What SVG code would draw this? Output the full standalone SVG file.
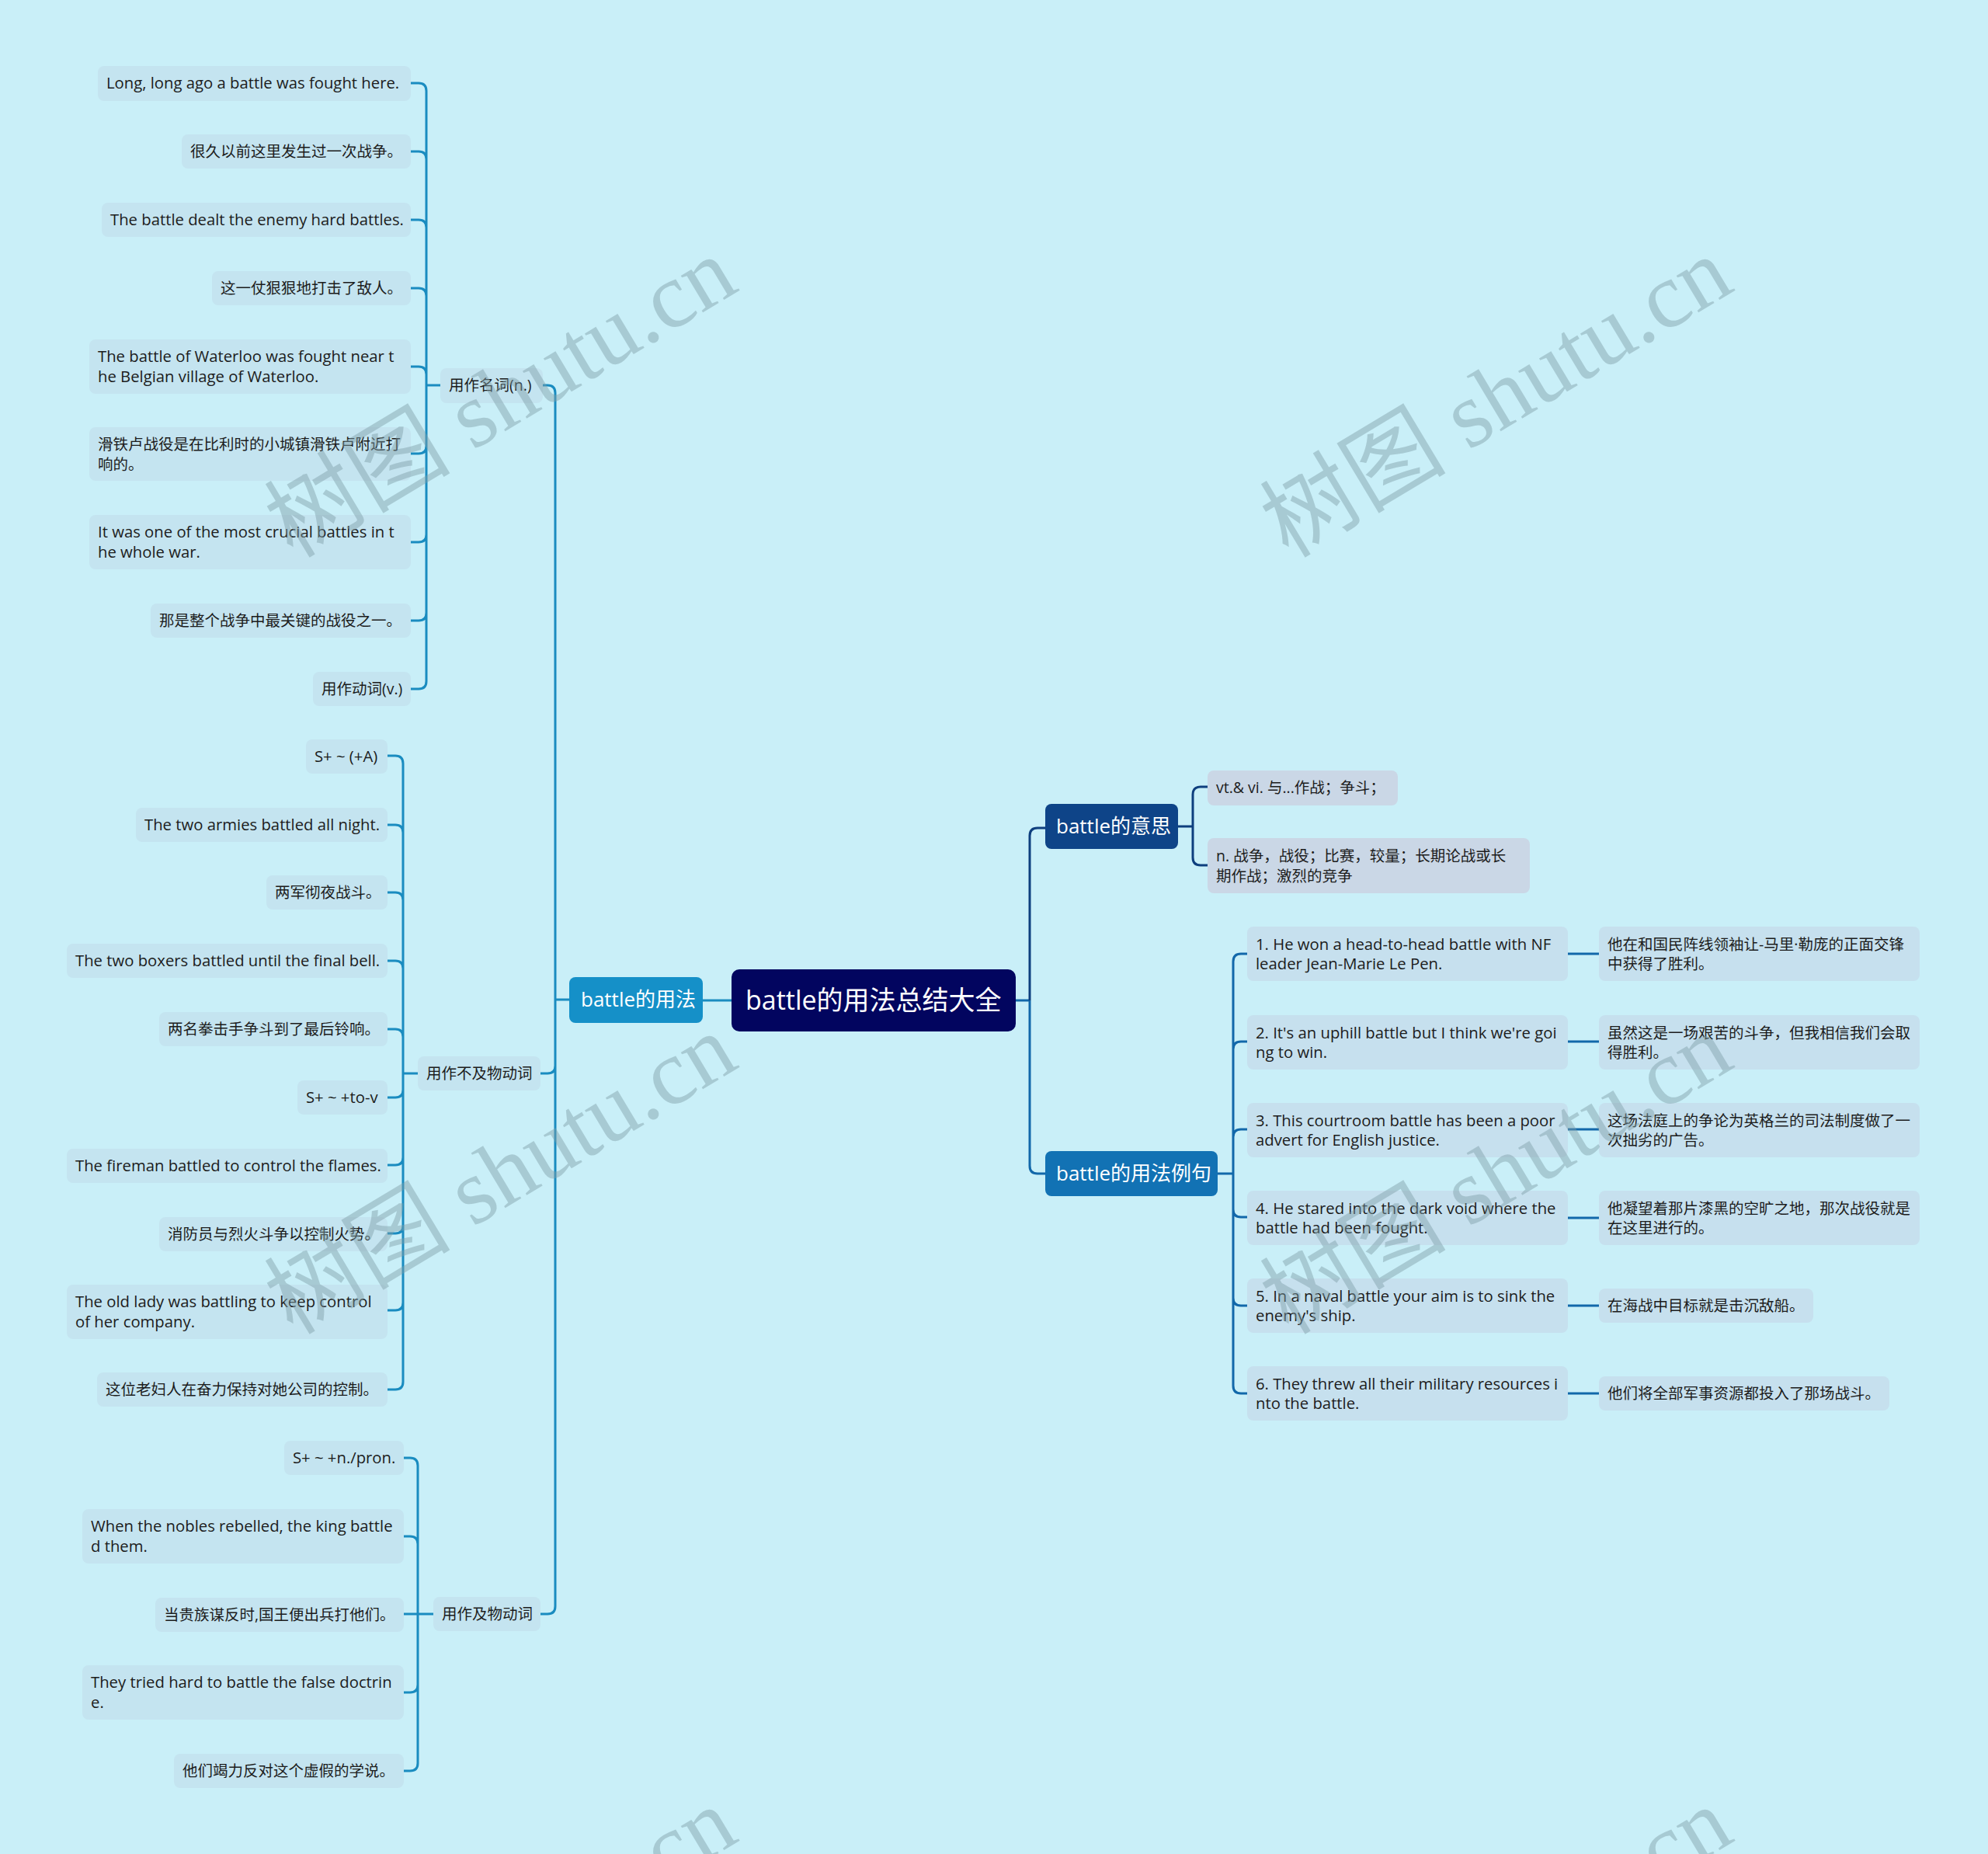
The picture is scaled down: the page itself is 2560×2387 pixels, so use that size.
<svg xmlns="http://www.w3.org/2000/svg" width="2560" height="2387" viewBox="0 0 2560 2387">
<style>
.t{font-family:"Open Sans","Noto Sans CJK SC",sans-serif;font-size:19.5px;fill:#1c1c1c}
.e{font-size:20.3px}
.w{font-family:"Open Sans","Noto Sans CJK SC",sans-serif;fill:#ffffff}
.lf{fill:#c4e4f0}
.lm{fill:#cad7e6}
.ls{fill:#c6e0ee}
.c1{fill:none;stroke:#1a8cc0;stroke-width:3}
.c2{fill:none;stroke:#0e3f7e;stroke-width:3}
.c3{fill:none;stroke:#1268aa;stroke-width:3}
.wm{font-family:"Liberation Serif","Noto Sans CJK SC",serif;font-size:120px;fill:#7f9fa8;opacity:0.45}
</style>
<rect width="2560" height="2387" fill="#c9eff8"/>
<g id="connectors">
<path class="c1" d="M567 496H549M549 496V117Q549 107 539 107H529M549 496V205Q549 195 539 195H529M549 496V293Q549 283 539 283H529M549 496V381Q549 371 539 371H529M549 496V482Q549 472 539 472H529M549 496V574Q549 584 539 584H529M549 496V688Q549 698 539 698H529M549 496V789Q549 799 539 799H529M549 496V877Q549 887 539 887H529"/>
<path class="c1" d="M538 1382H519M519 1382V983Q519 973 509 973H499M519 1382V1072Q519 1062 509 1062H499M519 1382V1159Q519 1149 509 1149H499M519 1382V1247Q519 1237 509 1237H499M519 1382V1335Q519 1325 509 1325H499M519 1382V1403Q519 1413 509 1413H499M519 1382V1490Q519 1500 509 1500H499M519 1382V1578Q519 1588 509 1588H499M519 1382V1677Q519 1687 509 1687H499M519 1382V1779Q519 1789 509 1789H499"/>
<path class="c1" d="M558 2078H520M538 2078V1887Q538 1877 528 1877H520M538 2078V1988Q538 1978 528 1978H520M538 2078V2169Q538 2179 528 2179H520M538 2078V2270Q538 2280 528 2280H520"/>
<path class="c1" d="M733 1287H715M715 1287V506Q715 496 705 496H699M715 1287V1372Q715 1382 705 1382H696M715 1287V2068Q715 2078 705 2078H696M942 1288H905"/>
<path class="c3" d="M1308 1288H1326"/>
<path class="c2" d="M1326 1288V1076Q1326 1066 1336 1066H1346"/>
<path class="c3" d="M1326 1288V1501Q1326 1511 1336 1511H1346"/>
<path class="c2" d="M1517 1064H1536M1536 1064V1023Q1536 1013 1546 1013H1555M1536 1064V1104Q1536 1114 1546 1114H1555"/>
<path class="c3" d="M1568 1511H1588M1588 1511V1238Q1588 1228 1598 1228H1606M1588 1511V1351Q1588 1341 1598 1341H1606M1588 1511V1464Q1588 1454 1598 1454H1606M1588 1511V1557Q1588 1567 1598 1567H1606M1588 1511V1671Q1588 1681 1598 1681H1606M1588 1511V1784Q1588 1794 1598 1794H1606"/>
<path class="c3" d="M2019 1228H2059M2019 1341H2059M2019 1454H2059M2019 1568H2059M2019 1681H2059M2019 1794H2059"/>
</g>
<g id="root"><rect x="942" y="1248" width="366" height="80" rx="10" fill="#02055f"/><text class="w" x="960" y="1300" font-size="34">battle的用法总结大全</text></g>
<g id="usage"><rect x="733" y="1258" width="172" height="59" rx="8" fill="#1590c8"/><text class="w" x="748" y="1296" font-size="26">battle的用法</text></g>
<g id="meaning"><rect x="1346" y="1035" width="171" height="58" rx="8" fill="#0e4488"/><text class="w" x="1360" y="1073" font-size="26">battle的意思</text></g>
<g id="examples"><rect x="1346" y="1482" width="222" height="58" rx="8" fill="#1272b4"/><text class="w" x="1360" y="1520" font-size="26">battle的用法例句</text></g>

<g id="noun"><rect class="lf" x="567" y="474" width="132" height="45" rx="8"/><text class="t" x="578" y="503">用作名词(n.)</text></g>
<g id="n1"><rect class="lf" x="126" y="85" width="403" height="45" rx="8"/><text class="t e" x="137" y="114">Long, long ago a battle was fought here.</text></g>
<g id="n2"><rect class="lf" x="234" y="173" width="295" height="44" rx="8"/><text class="t" x="245" y="202">很久以前这里发生过一次战争。</text></g>
<g id="n3"><rect class="lf" x="131" y="261" width="398" height="44" rx="8"/><text class="t e" x="142" y="290">The battle dealt the enemy hard battles.</text></g>
<g id="n4"><rect class="lf" x="273" y="349" width="256" height="44" rx="8"/><text class="t" x="284" y="378">这一仗狠狠地打击了敌人。</text></g>
<g id="n5"><rect class="lf" x="115" y="437" width="414" height="70" rx="8"/><text class="t e" x="126" y="466">The battle of Waterloo was fought near t</text><text class="t e" x="126" y="492">he Belgian village of Waterloo.</text></g>
<g id="n6"><rect class="lf" x="115" y="550" width="414" height="69" rx="8"/><text class="t" x="126" y="579">滑铁卢战役是在比利时的小城镇滑铁卢附近打</text><text class="t" x="126" y="605">响的。</text></g>
<g id="n7"><rect class="lf" x="115" y="663" width="414" height="70" rx="8"/><text class="t e" x="126" y="692">It was one of the most crucial battles in t</text><text class="t e" x="126" y="718">he whole war.</text></g>
<g id="n8"><rect class="lf" x="194" y="777" width="335" height="44" rx="8"/><text class="t" x="205" y="806">那是整个战争中最关键的战役之一。</text></g>
<g id="n9"><rect class="lf" x="403" y="865" width="126" height="44" rx="8"/><text class="t" x="414" y="894">用作动词(v.)</text></g>

<g id="intr"><rect class="lf" x="538" y="1360" width="158" height="44" rx="8"/><text class="t" x="549" y="1389">用作不及物动词</text></g>
<g id="i1"><rect class="lf" x="394" y="952" width="105" height="44" rx="8"/><text class="t e" x="405" y="981">S+ ~ (+A)</text></g>
<g id="i2"><rect class="lf" x="175" y="1040" width="324" height="44" rx="8"/><text class="t e" x="186" y="1069">The two armies battled all night.</text></g>
<g id="i3"><rect class="lf" x="343" y="1127" width="156" height="44" rx="8"/><text class="t" x="354" y="1156">两军彻夜战斗。</text></g>
<g id="i4"><rect class="lf" x="86" y="1215" width="413" height="44" rx="8"/><text class="t e" x="97" y="1244">The two boxers battled until the final bell.</text></g>
<g id="i5"><rect class="lf" x="205" y="1303" width="294" height="44" rx="8"/><text class="t" x="216" y="1332">两名拳击手争斗到了最后铃响。</text></g>
<g id="i6"><rect class="lf" x="383" y="1391" width="116" height="44" rx="8"/><text class="t e" x="394" y="1420">S+ ~ +to-v</text></g>
<g id="i7"><rect class="lf" x="86" y="1479" width="413" height="44" rx="8"/><text class="t e" x="97" y="1508">The fireman battled to control the flames.</text></g>
<g id="i8"><rect class="lf" x="205" y="1567" width="294" height="44" rx="8"/><text class="t" x="216" y="1596">消防员与烈火斗争以控制火势。</text></g>
<g id="i9"><rect class="lf" x="86" y="1654" width="413" height="70" rx="8"/><text class="t e" x="97" y="1683">The old lady was battling to keep control</text><text class="t e" x="97" y="1709">of her company.</text></g>
<g id="i10"><rect class="lf" x="125" y="1767" width="374" height="44" rx="8"/><text class="t" x="136" y="1796">这位老妇人在奋力保持对她公司的控制。</text></g>

<g id="tran"><rect class="lf" x="558" y="2056" width="138" height="44" rx="8"/><text class="t" x="569" y="2085">用作及物动词</text></g>
<g id="v1"><rect class="lf" x="366" y="1855" width="154" height="44" rx="8"/><text class="t e" x="377" y="1884">S+ ~ +n./pron.</text></g>
<g id="v2"><rect class="lf" x="106" y="1943" width="414" height="70" rx="8"/><text class="t e" x="117" y="1972">When the nobles rebelled, the king battle</text><text class="t e" x="117" y="1998">d them.</text></g>
<g id="v3"><rect class="lf" x="200" y="2057" width="320" height="44" rx="8"/><text class="t" x="211" y="2086">当贵族谋反时,国王便出兵打他们。</text></g>
<g id="v4"><rect class="lf" x="106" y="2144" width="414" height="70" rx="8"/><text class="t e" x="117" y="2173">They tried hard to battle the false doctrin</text><text class="t e" x="117" y="2199">e.</text></g>
<g id="v5"><rect class="lf" x="224" y="2258" width="296" height="44" rx="8"/><text class="t" x="235" y="2287">他们竭力反对这个虚假的学说。</text></g>

<g id="m1"><rect class="lm" x="1555" y="992" width="245" height="45" rx="8"/><text class="t" x="1566" y="1021">vt.&amp; vi. 与...作战；争斗；</text></g>
<g id="m2"><rect class="lm" x="1555" y="1079" width="415" height="71" rx="8"/><text class="t" x="1566" y="1109">n. 战争，战役；比赛，较量；长期论战或长</text><text class="t" x="1566" y="1135">期作战；激烈的竞争</text></g>

<g id="s1"><rect class="ls" x="1606" y="1193" width="413" height="70" rx="8"/><text class="t e" x="1617" y="1223">1. He won a head-to-head battle with NF</text><text class="t e" x="1617" y="1248">leader Jean-Marie Le Pen.</text></g>
<g id="s2"><rect class="ls" x="1606" y="1307" width="413" height="70" rx="8"/><text class="t e" x="1617" y="1337">2. It's an uphill battle but I think we're goi</text><text class="t e" x="1617" y="1362">ng to win.</text></g>
<g id="s3"><rect class="ls" x="1606" y="1420" width="413" height="70" rx="8"/><text class="t e" x="1617" y="1450">3. This courtroom battle has been a poor</text><text class="t e" x="1617" y="1475">advert for English justice.</text></g>
<g id="s4"><rect class="ls" x="1606" y="1533" width="413" height="70" rx="8"/><text class="t e" x="1617" y="1563">4. He stared into the dark void where the</text><text class="t e" x="1617" y="1588">battle had been fought.</text></g>
<g id="s5"><rect class="ls" x="1606" y="1646" width="413" height="70" rx="8"/><text class="t e" x="1617" y="1676">5. In a naval battle your aim is to sink the</text><text class="t e" x="1617" y="1701">enemy's ship.</text></g>
<g id="s6"><rect class="ls" x="1606" y="1759" width="413" height="70" rx="8"/><text class="t e" x="1617" y="1789">6. They threw all their military resources i</text><text class="t e" x="1617" y="1814">nto the battle.</text></g>

<g id="t1"><rect class="ls" x="2059" y="1193" width="413" height="70" rx="8"/><text class="t" x="2070" y="1223">他在和国民阵线领袖让-马里·勒庞的正面交锋</text><text class="t" x="2070" y="1248">中获得了胜利。</text></g>
<g id="t2"><rect class="ls" x="2059" y="1307" width="413" height="70" rx="8"/><text class="t" x="2070" y="1337">虽然这是一场艰苦的斗争，但我相信我们会取</text><text class="t" x="2070" y="1362">得胜利。</text></g>
<g id="t3"><rect class="ls" x="2059" y="1420" width="413" height="70" rx="8"/><text class="t" x="2070" y="1450">这场法庭上的争论为英格兰的司法制度做了一</text><text class="t" x="2070" y="1475">次拙劣的广告。</text></g>
<g id="t4"><rect class="ls" x="2059" y="1533" width="413" height="70" rx="8"/><text class="t" x="2070" y="1563">他凝望着那片漆黑的空旷之地，那次战役就是</text><text class="t" x="2070" y="1588">在这里进行的。</text></g>
<g id="t5"><rect class="ls" x="2059" y="1659" width="276" height="44" rx="8"/><text class="t" x="2070" y="1688">在海战中目标就是击沉敌船。</text></g>
<g id="t6"><rect class="ls" x="2059" y="1772" width="374" height="44" rx="8"/><text class="t" x="2070" y="1801">他们将全部军事资源都投入了那场战斗。</text></g>

<g id="watermark">
<text class="wm" text-anchor="middle" transform="translate(645,512) rotate(-31)" y="40">树图 shutu.cn</text>
<text class="wm" text-anchor="middle" transform="translate(1927,512) rotate(-31)" y="40">树图 shutu.cn</text>
<text class="wm" text-anchor="middle" transform="translate(645,1512) rotate(-31)" y="40">树图 shutu.cn</text>
<text class="wm" text-anchor="middle" transform="translate(1927,1512) rotate(-31)" y="40">树图 shutu.cn</text>
<text class="wm" text-anchor="middle" transform="translate(645,2508) rotate(-31)" y="40">树图 shutu.cn</text>
<text class="wm" text-anchor="middle" transform="translate(1927,2508) rotate(-31)" y="40">树图 shutu.cn</text>
</g>
</svg>
